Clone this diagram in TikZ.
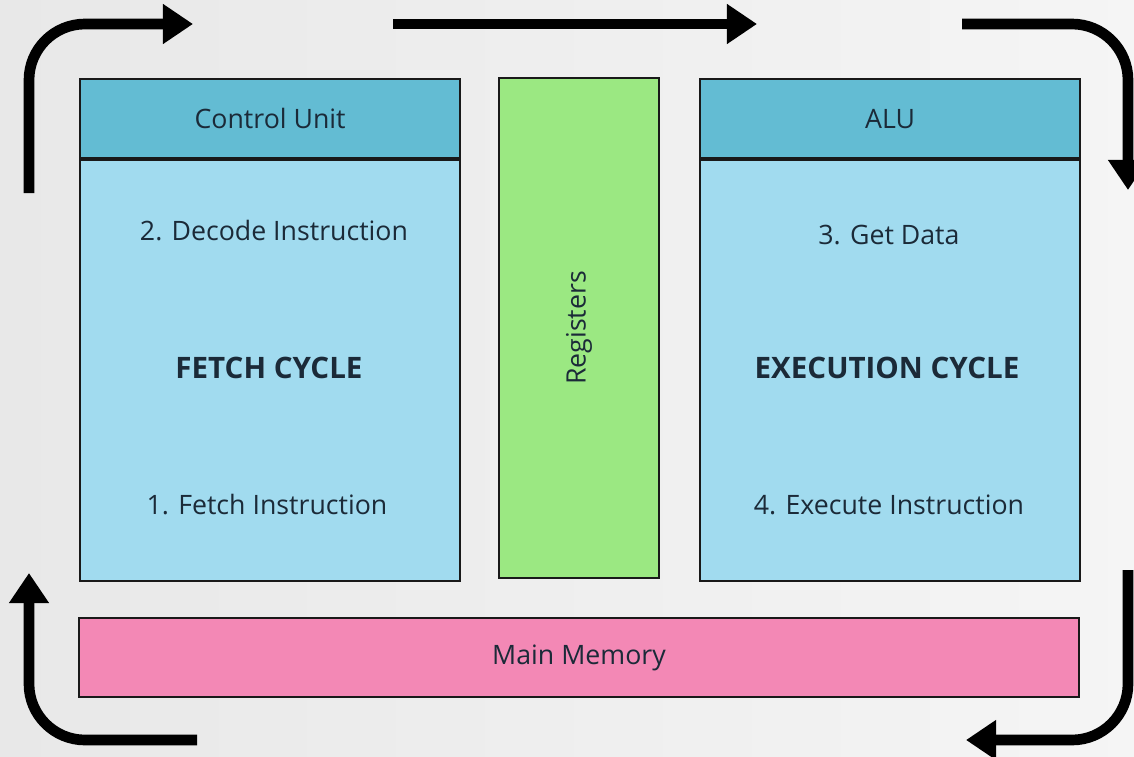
\documentclass[tikz,border=0pt]{standalone}
\usepackage{fontspec}
\setmainfont{Open Sans}
\usetikzlibrary{arrows.meta}
\definecolor{headblue}{HTML}{63BCD3}
\definecolor{bodyblue}{HTML}{A1DBEF}
\definecolor{reggreen}{HTML}{9BE882}
\definecolor{mempink}{HTML}{F388B5}
\definecolor{inktext}{HTML}{1B2A38}

\begin{document}
\begin{tikzpicture}[x=0.025cm,y=-0.025cm,
    font=\fontsize{19}{22}\selectfont, text=inktext,
    unit/.style={draw=black!90, line width=1.5pt, inner sep=0pt},
    head/.style={unit, fill=headblue, minimum width=9.5cm, minimum height=1.975cm},
    body/.style={unit, fill=bodyblue, minimum width=9.5cm, minimum height=10.525cm},
    cycle/.style={font=\fontsize{21}{24}\selectfont\bfseries},
    flow/.style={line width=7.6pt, rounded corners=1.4cm, -{Triangle[length=0.75cm,width=0.95cm]}}]
  % background
  \shade[left color=black!9, right color=black!4] (0,0) rectangle (1134,757);
  \useasboundingbox (0,0) rectangle (1134,757);

  % control unit side
  \node[head, anchor=north west] (cu) at (79,78) {Control Unit};
  \node[body, anchor=north] (fetchbox) at (cu.south) {};
  \node (decode) at (274,231) {2. Decode Instruction};
  \node[cycle] (fetch) at (269,368) {FETCH CYCLE};
  \node (getinstr) at (267,505) {1. Fetch Instruction};

  % registers
  \node[unit, fill=reggreen, rotate=90, minimum width=12.5cm, minimum height=4cm] (reg) at (579,328) {Registers};

  % alu side
  \node[head, anchor=north west] (alu) at (699,78) {ALU};
  \node[body, anchor=north] (execbox) at (alu.south) {};
  \node (getdata) at (889,235) {3. Get Data};
  \node[cycle] (exec) at (887,368) {EXECUTION CYCLE};
  \node (execinstr) at (889,505) {4. Execute Instruction};

  % memory
  \node[unit, fill=mempink, minimum width=25cm, minimum height=1.975cm] (mem) at (579,657.5) {Main Memory};

  % cycle arrows
  \coordinate (a1) at (29,193);   \coordinate (a2) at (193,24);
  \coordinate (b1) at (393,24);   \coordinate (b2) at (757,24);
  \coordinate (c1) at (962,24);   \coordinate (c2) at (1128,190);
  \coordinate (d1) at (1128,570); \coordinate (d2) at (966,740);
  \coordinate (e1) at (197,740);  \coordinate (e2) at (29,573);
  \draw[flow] (a1) |- (a2);
  \draw[flow] (b1) -- (b2);
  \draw[flow] (c1) -| (c2);
  \draw[flow] (d1) |- (d2);
  \draw[flow] (e1) -| (e2);
\end{tikzpicture}
\end{document}
